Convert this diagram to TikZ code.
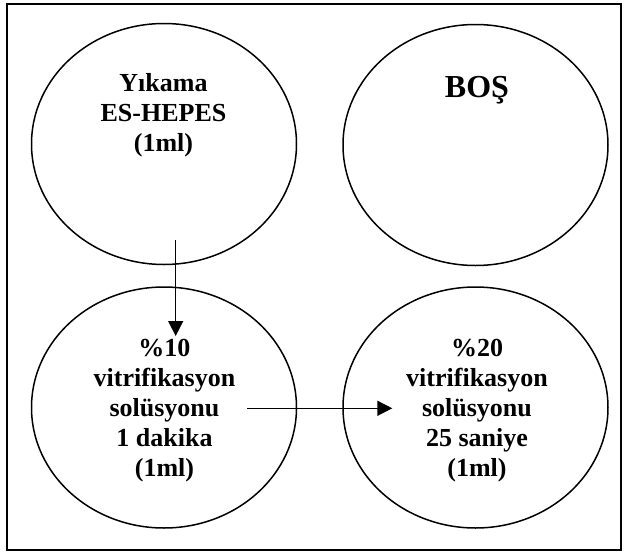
\documentclass[tikz,border=0pt]{standalone}
\usepackage{fontspec}
\setmainfont{Liberation Serif}
\usetikzlibrary{shapes.geometric,arrows.meta}
\begin{document}
\begin{tikzpicture}[x=1pt,y=-1pt,
  circ/.style={draw,ellipse,line width=1.5pt,minimum width=265pt,minimum height=241pt,inner sep=0pt},
  lbl/.style={align=center,font=\fontsize{26}{30}\selectfont\bfseries,inner sep=0pt,anchor=base},
  arr/.style={line width=1.5pt,-{Triangle[length=15pt,width=15pt]}}]
\useasboundingbox (0,0) rectangle (625,555);
\node[draw,line width=1.8pt,minimum width=614pt,minimum height=546pt,inner sep=0pt] (frame) at (314,277) {};
\node[circ] (tl) at (164,144) {};
\node[circ] (tr) at (475.5,145) {};
\node[circ] (bl) at (164,407.5) {};
\node[circ] (br) at (475.5,407.5) {};
% base anchor of a multi-line node is the baseline of its last line
\node[lbl] (tlt) at (163.5,151.5) {Yıkama\\ES-HEPES\\(1ml)};
\node[lbl,font=\fontsize{32}{36}\selectfont\bfseries] (trt) at (477,97) {BOŞ};
\node[lbl] (blt) at (164.5,476) {\%10\\vitrifikasyon\\solüsyonu\\1 dakika\\(1ml)};
\node[lbl] (brt) at (477,476) {\%20\\vitrifikasyon\\solüsyonu\\25 saniye\\(1ml)};
\coordinate (v1) at (175.7,240);
\coordinate (v2) at (175.7,336);
\draw[arr] (v1) -- (v2);
\coordinate (h1) at (247,408.3);
\coordinate (h2) at (392.3,408.3);
\draw[arr] (h1) -- (h2);
\end{tikzpicture}
\end{document}
